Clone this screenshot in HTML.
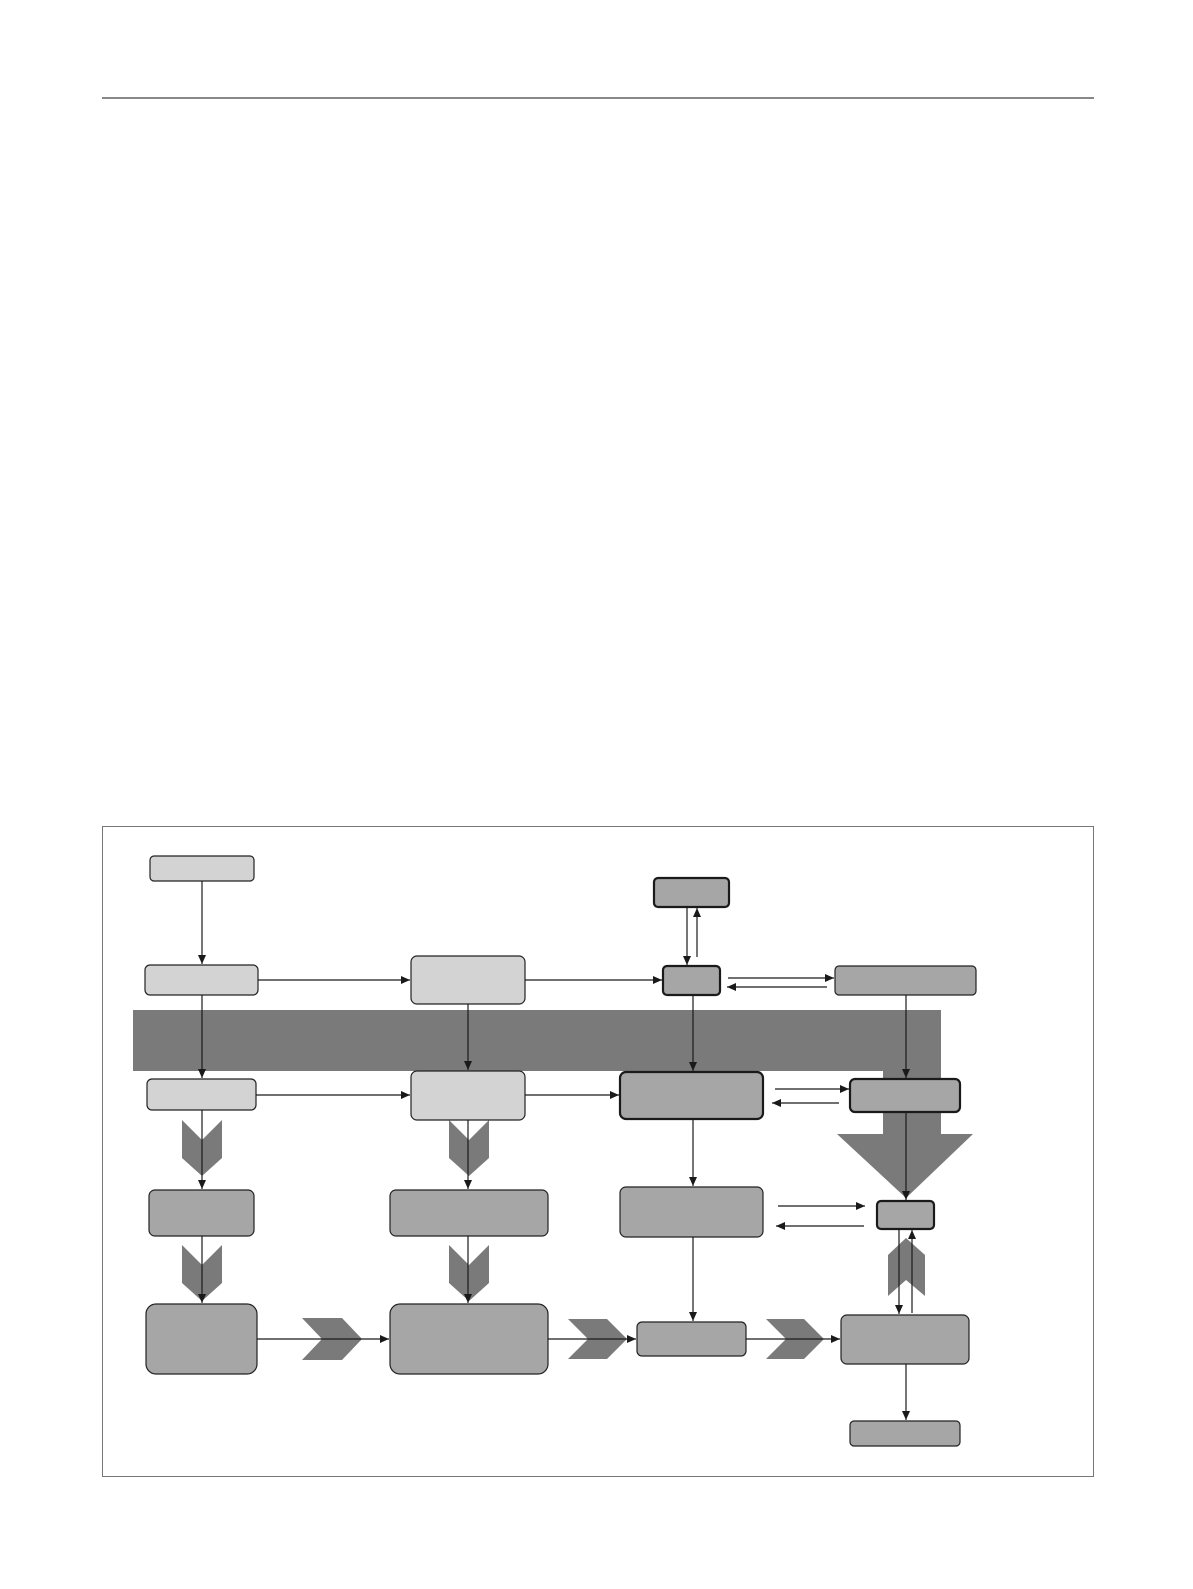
<!DOCTYPE html>
<html><head><meta charset="utf-8"><style>
html,body{margin:0;padding:0;background:#fff;}
svg{display:block;}
</style></head><body>
<svg width="1193" height="1589" viewBox="0 0 1193 1589" xmlns="http://www.w3.org/2000/svg">
<defs>
<marker id="ah" markerWidth="10" markerHeight="10" refX="9" refY="5" orient="auto" markerUnits="userSpaceOnUse">
<path d="M0,1 L9,5 L0,9 Z" fill="#1a1a1a"/>
</marker>
</defs>
<line x1="102" y1="98" x2="1094" y2="98" stroke="#888" stroke-width="2"/>
<rect x="102.5" y="826.5" width="991" height="650" fill="none" stroke="#777" stroke-width="1"/>

<path d="M133,1010 H941 V1134 H973 L906,1198 L837,1134 H883 V1071 H133 Z" fill="#7a7a7a"/>

<g fill="#7a7a7a">
<path d="M182,1120 L202,1140 L222,1120 L222,1158 L202,1176 L182,1158 Z"/>
<path d="M182,1245 L202,1265 L222,1245 L222,1283 L202,1301 L182,1283 Z"/>
<path d="M449,1120 L469,1140 L489,1120 L489,1158 L469,1176 L449,1158 Z"/>
<path d="M449,1245 L469,1265 L489,1245 L489,1283 L469,1301 L449,1283 Z"/>
<path d="M302,1318 L342,1318 L362,1339 L342,1360 L302,1360 L322,1339 Z"/>
<path d="M568,1319 L607,1319 L627,1339 L607,1359 L568,1359 L588,1339 Z"/>
<path d="M766,1319 L804,1319 L824,1339 L804,1359 L766,1359 L786,1339 Z"/>
<path d="M888,1255 L906,1238 L925,1255 L925,1296 L906,1280 L888,1296 Z"/>
</g>

<g stroke="#222" stroke-width="1.2">
<rect x="150" y="856" width="104" height="25" rx="4" fill="#d3d3d3"/>
<rect x="145" y="965" width="113" height="30" rx="5" fill="#d3d3d3"/>
<rect x="411" y="956" width="114" height="48" rx="6" fill="#d3d3d3"/>
<rect x="147" y="1079" width="109" height="31" rx="5" fill="#d3d3d3"/>
<rect x="411" y="1071" width="114" height="49" rx="6" fill="#d3d3d3"/>
<rect x="835" y="966" width="141" height="29" rx="4" fill="#a6a6a6"/>
<rect x="149" y="1190" width="105" height="46" rx="6" fill="#a6a6a6"/>
<rect x="390" y="1190" width="158" height="46" rx="6" fill="#a6a6a6"/>
<rect x="620" y="1187" width="143" height="50" rx="6" fill="#a6a6a6"/>
<rect x="146" y="1304" width="111" height="70" rx="10" fill="#a6a6a6"/>
<rect x="390" y="1304" width="158" height="70" rx="10" fill="#a6a6a6"/>
<rect x="637" y="1322" width="109" height="34" rx="5" fill="#a6a6a6"/>
<rect x="841" y="1315" width="128" height="49" rx="6" fill="#a6a6a6"/>
<rect x="850" y="1421" width="110" height="25" rx="4" fill="#a6a6a6"/>
</g>
<g stroke="#1a1a1a" stroke-width="2.2">
<rect x="654" y="878" width="75" height="29" rx="4" fill="#a6a6a6"/>
<rect x="663" y="966" width="57" height="29" rx="4" fill="#a6a6a6"/>
<rect x="620" y="1072" width="143" height="47" rx="6" fill="#a6a6a6"/>
<rect x="850" y="1079" width="110" height="33" rx="5" fill="#a6a6a6"/>
<rect x="877" y="1201" width="57" height="28" rx="4" fill="#a6a6a6"/>
</g>

<g stroke="#1a1a1a" stroke-width="1.2" fill="none" marker-end="url(#ah)">
<line x1="202" y1="881" x2="202" y2="964"/>
<line x1="202" y1="995" x2="202" y2="1078"/>
<line x1="258" y1="980" x2="410" y2="980"/>
<line x1="525" y1="980" x2="662" y2="980"/>
<line x1="468" y1="1004" x2="468" y2="1070"/>
<line x1="687" y1="907" x2="687" y2="965"/>
<line x1="697" y1="957" x2="697" y2="908"/>
<line x1="728" y1="978" x2="834" y2="978"/>
<line x1="827" y1="987" x2="727" y2="987"/>
<line x1="693" y1="995" x2="693" y2="1071"/>
<line x1="906" y1="995" x2="906" y2="1078"/>
<line x1="256" y1="1095" x2="410" y2="1095"/>
<line x1="525" y1="1095" x2="619" y2="1095"/>
<line x1="775" y1="1089" x2="849" y2="1089"/>
<line x1="839" y1="1103" x2="772" y2="1103"/>
<line x1="693" y1="1119" x2="693" y2="1186"/>
<line x1="906" y1="1112" x2="906" y2="1200"/>
<line x1="778" y1="1206" x2="865" y2="1206"/>
<line x1="864" y1="1226" x2="776" y2="1226"/>
<line x1="899" y1="1229" x2="899" y2="1314"/>
<line x1="912" y1="1313" x2="912" y2="1230"/>
<line x1="693" y1="1237" x2="693" y2="1321"/>
<line x1="906" y1="1364" x2="906" y2="1420"/>
<line x1="202" y1="1110" x2="202" y2="1189"/>
<line x1="202" y1="1236" x2="202" y2="1303"/>
<line x1="468" y1="1120" x2="468" y2="1189"/>
<line x1="468" y1="1236" x2="468" y2="1303"/>
<line x1="257" y1="1339" x2="389" y2="1339"/>
<line x1="548" y1="1339" x2="636" y2="1339"/>
<line x1="746" y1="1339" x2="840" y2="1339"/>
</g>
</svg>
</body></html>
